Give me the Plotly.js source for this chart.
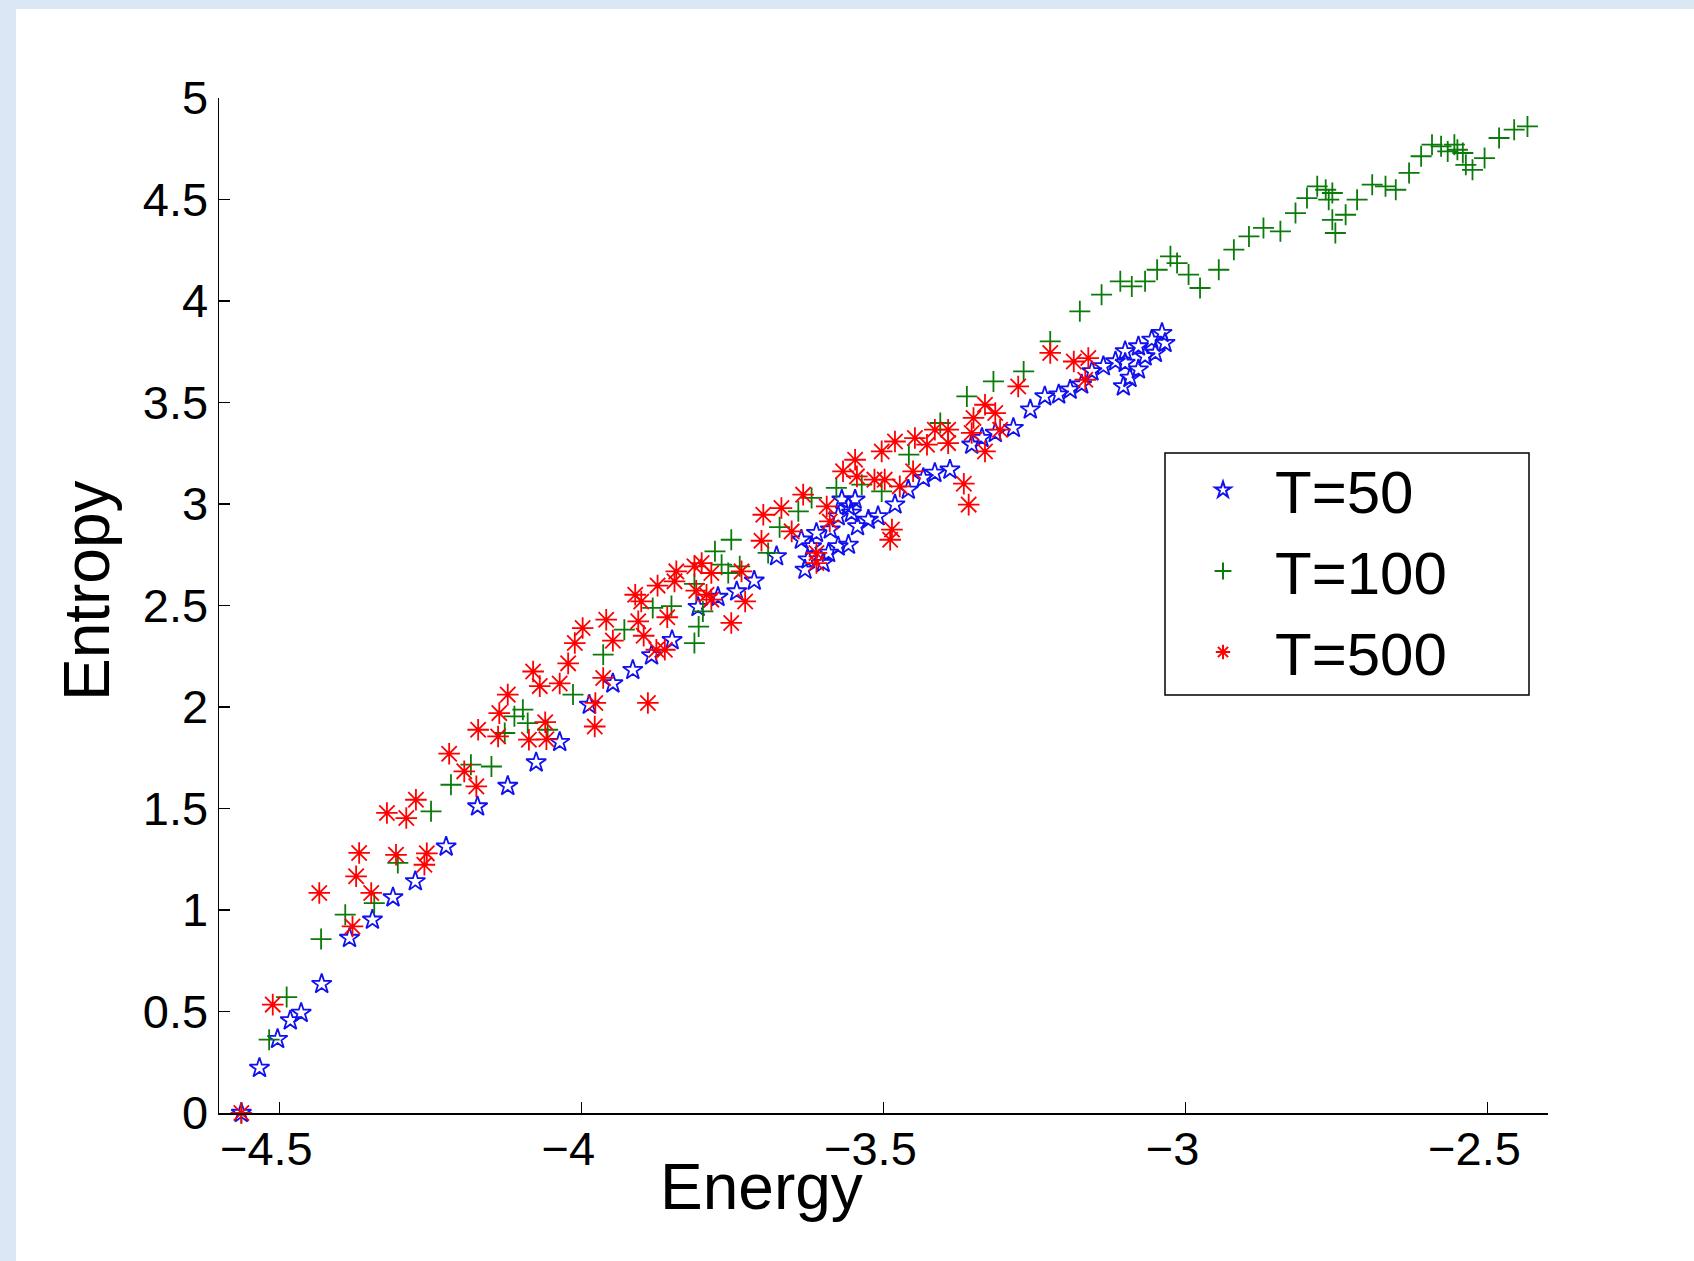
<!DOCTYPE html>
<html>
<head>
<meta charset="utf-8">
<script src="https://cdn.plot.ly/plotly-3.0.1.min.js"></script>
<style>
  html, body { margin: 0; padding: 0; background: #dbe7f4; }
  #chart { width: 1694px; height: 1261px; }
</style>
</head>
<body>
<div id="chart"></div>
<script>
// ---- Data ----
const seriesNames = ["T=50", "T=100", "T=500"];

const t50Energy = [-4.563,-4.533,-4.503,-4.482,-4.464,-4.430,-4.384,-4.346,-4.312,-4.275,-4.224,-4.172,-4.122,-4.075,-4.036,-3.987,-3.948,-3.915,-3.884,-3.850,-3.807,-3.774,-3.743,-3.714,-3.677,-3.636,-3.630,-3.625,-3.619,-3.611,-3.600,-3.591,-3.588,-3.575,-3.575,-3.569,-3.558,-3.558,-3.553,-3.547,-3.543,-3.525,-3.509,-3.481,-3.459,-3.434,-3.415,-3.390,-3.354,-3.337,-3.315,-3.285,-3.257,-3.233,-3.210,-3.191,-3.172,-3.155,-3.136,-3.116,-3.100,-3.078,-3.056,-3.039,-3.034,-3.050,-3.067,-3.078,-3.092,-3.103,-3.100];
const t50Entropy = [0,0.222,0.364,0.456,0.493,0.635,0.862,0.952,1.062,1.141,1.312,1.510,1.611,1.727,1.827,2.011,2.116,2.182,2.254,2.329,2.492,2.542,2.569,2.622,2.742,2.824,2.676,2.726,2.791,2.857,2.709,2.759,2.874,2.791,2.939,3.021,2.988,2.799,2.956,3.021,2.890,2.922,2.939,2.997,3.070,3.128,3.153,3.169,3.292,3.325,3.350,3.374,3.465,3.530,3.539,3.563,3.588,3.653,3.678,3.702,3.752,3.776,3.809,3.842,3.793,3.744,3.727,3.662,3.621,3.579,3.695];

const t100Energy = [-4.563,-4.517,-4.488,-4.431,-4.391,-4.343,-4.304,-4.249,-4.216,-4.183,-4.149,-4.127,-4.111,-4.097,-4.089,-4.056,-4.014,-3.964,-3.929,-3.882,-3.851,-3.813,-3.806,-3.799,-3.813,-3.779,-3.768,-3.757,-3.752,-3.738,-3.691,-3.672,-3.641,-3.619,-3.578,-3.536,-3.503,-3.458,-3.406,-3.362,-3.318,-3.268,-3.224,-3.175,-3.139,-3.108,-3.089,-3.067,-3.047,-3.025,-3.014,-2.995,-2.976,-2.945,-2.920,-2.895,-2.871,-2.843,-2.818,-2.799,-2.782,-2.768,-2.757,-2.763,-2.757,-2.752,-2.735,-2.716,-2.691,-2.669,-2.652,-2.630,-2.610,-2.592,-2.577,-2.566,-2.555,-2.550,-2.541,-2.536,-2.525,-2.505,-2.481,-2.456,-2.434];
const t100Entropy = [0,0.361,0.571,0.857,0.977,1.034,1.232,1.486,1.617,1.716,1.707,1.872,1.954,1.987,1.921,1.888,2.061,2.258,2.381,2.488,2.497,2.315,2.396,2.471,2.607,2.767,2.701,2.660,2.824,2.693,2.759,2.886,2.964,3.030,3.079,3.095,3.062,3.243,3.399,3.530,3.604,3.653,3.801,3.949,4.031,4.097,4.072,4.097,4.154,4.220,4.187,4.130,4.064,4.154,4.253,4.318,4.360,4.343,4.433,4.507,4.565,4.548,4.532,4.499,4.400,4.335,4.425,4.499,4.573,4.565,4.548,4.631,4.713,4.770,4.762,4.737,4.770,4.745,4.729,4.671,4.646,4.704,4.803,4.844,4.860];

const t500Energy = [-4.563,-4.511,-4.434,-4.379,-4.348,-4.373,-4.368,-4.307,-4.260,-4.256,-4.322,-4.290,-4.274,-4.219,-4.194,-4.174,-4.171,-4.138,-4.136,-4.122,-4.087,-4.060,-4.058,-4.069,-4.080,-4.036,-4.022,-4.011,-3.998,-3.977,-3.978,-3.964,-3.959,-3.948,-3.911,-3.906,-3.901,-3.897,-3.890,-3.876,-3.862,-3.874,-3.858,-3.846,-3.843,-3.813,-3.801,-3.810,-3.793,-3.785,-3.785,-3.752,-3.735,-3.729,-3.702,-3.699,-3.669,-3.652,-3.633,-3.594,-3.589,-3.611,-3.611,-3.547,-3.567,-3.544,-3.515,-3.498,-3.473,-3.451,-3.486,-3.489,-3.503,-3.481,-3.448,-3.428,-3.415,-3.393,-3.393,-3.367,-3.359,-3.351,-3.332,-3.315,-3.307,-3.332,-3.277,-3.224,-3.185,-3.161,-3.166,-3.354];
const t500Entropy = [0,0.534,1.084,0.919,1.084,1.166,1.281,1.272,1.223,1.279,1.478,1.453,1.543,1.770,1.683,1.609,1.888,1.855,1.970,2.061,1.839,1.925,1.841,2.103,2.175,2.116,2.215,2.315,2.389,2.020,1.904,2.143,2.430,2.327,2.553,2.422,2.520,2.351,2.020,2.282,2.282,2.598,2.442,2.619,2.668,2.693,2.709,2.573,2.553,2.529,2.660,2.414,2.668,2.520,2.819,2.947,2.980,2.865,3.046,2.988,2.914,2.759,2.709,3.218,3.161,3.136,3.120,3.120,3.087,3.161,2.874,2.824,3.259,3.308,3.325,3.292,3.366,3.366,3.300,3.100,2.997,3.424,3.489,3.448,3.366,3.259,3.579,3.744,3.702,3.719,3.612,3.350];

const xTicks = [-4.5, -4, -3.5, -3, -2.5];
const xTickLabels = ["\u22124.5", "\u22124", "\u22123.5", "\u22123", "\u22122.5"];
const yTicks = [0, 0.5, 1, 1.5, 2, 2.5, 3, 3.5, 4, 4.5, 5];
const yTickLabels = ["0", "0.5", "1", "1.5", "2", "2.5", "3", "3.5", "4", "4.5", "5"];

// ---- Figure ----
const FONT = '"Liberation Sans", Arial, Helvetica, sans-serif';
const W = 1694, H = 1261;
const M = {l: 219, r: 146, t: 98, b: 148};
const PW = W - M.l - M.r, PH = H - M.t - M.b;
const px2x = p => (p - M.l) / PW;
const px2y = p => (H - M.b - p) / PH;

function trace(name, x, y, symbol, color, size) {
  return {
    type: 'scatter', mode: 'markers', name: name, x: x, y: y,
    cliponaxis: false,
    marker: {symbol: symbol, size: size, color: color, line: {color: color, width: 1.8}}
  };
}

const data = [
  trace(seriesNames[0], t50Energy, t50Entropy, 'star-open', '#1010f0', 15),
  trace(seriesNames[1], t100Energy, t100Entropy, 'cross-thin-open', '#0a7a0a', 15),
  trace(seriesNames[2], t500Energy, t500Entropy, 'asterisk-open', '#ff0000', 18)
];

const axisCommon = {
  showline: true, linecolor: '#000', linewidth: 1.5,
  ticks: 'inside', ticklen: 11, tickwidth: 1.5, tickcolor: '#000',
  showgrid: false, zeroline: false, mirror: false,
  tickfont: {family: FONT, size: 47, color: '#000'},
  automargin: false, fixedrange: true
};

// MATLAB-style labels: the number (not the minus sign) is centred on the tick
const xTickText = xTickLabels.map(s => s + '\u2007');

const layout = {
  width: W, height: H,
  margin: M,
  paper_bgcolor: '#dbe7f4',
  plot_bgcolor: '#ffffff',
  font: {family: FONT, color: '#000'},
  showlegend: true,
  xaxis: Object.assign({}, axisCommon, {
    range: [-4.6, -2.4], tickmode: 'array', tickvals: xTicks, ticktext: xTickText,
    ticklabelstandoff: -6
  }),
  yaxis: Object.assign({}, axisCommon, {
    range: [0, 5], tickmode: 'array', tickvals: yTicks, ticktext: yTickLabels,
    ticklabelstandoff: 0
  }),
  legend: {
    x: px2x(1171), y: px2y(444.5), xanchor: 'left', yanchor: 'top',
    bgcolor: 'rgba(0,0,0,0)', borderwidth: 0,
    font: {family: FONT, size: 60, color: '#000'},
    itemsizing: 'constant', itemwidth: 94
  },
  annotations: [
    {text: 'Energy', xref: 'paper', yref: 'paper',
     x: px2x(761), y: px2y(1148.5), xanchor: 'center', yanchor: 'top',
     showarrow: false, font: {family: FONT, size: 64, color: '#000'}},
    {text: 'Entropy', xref: 'paper', yref: 'paper', textangle: -90,
     x: px2x(87), y: px2y(591), xanchor: 'center', yanchor: 'middle',
     showarrow: false, font: {family: FONT, size: 64, color: '#000'}}
  ],
  shapes: [
    {type: 'rect', xref: 'paper', yref: 'paper', layer: 'below',
     x0: px2x(16), x1: px2x(W + 2), y0: px2y(H + 2), y1: px2y(9),
     fillcolor: '#ffffff', line: {width: 0}},
    {type: 'rect', xref: 'paper', yref: 'paper', layer: 'above',
     x0: px2x(1165), x1: px2x(1529), y0: px2y(695), y1: px2y(453),
     fillcolor: 'rgba(255,255,255,0)', line: {color: '#000', width: 1.5}}
  ]
};

Plotly.newPlot('chart', data, layout, {displayModeBar: false, staticPlot: true});
</script>
</body>
</html>
